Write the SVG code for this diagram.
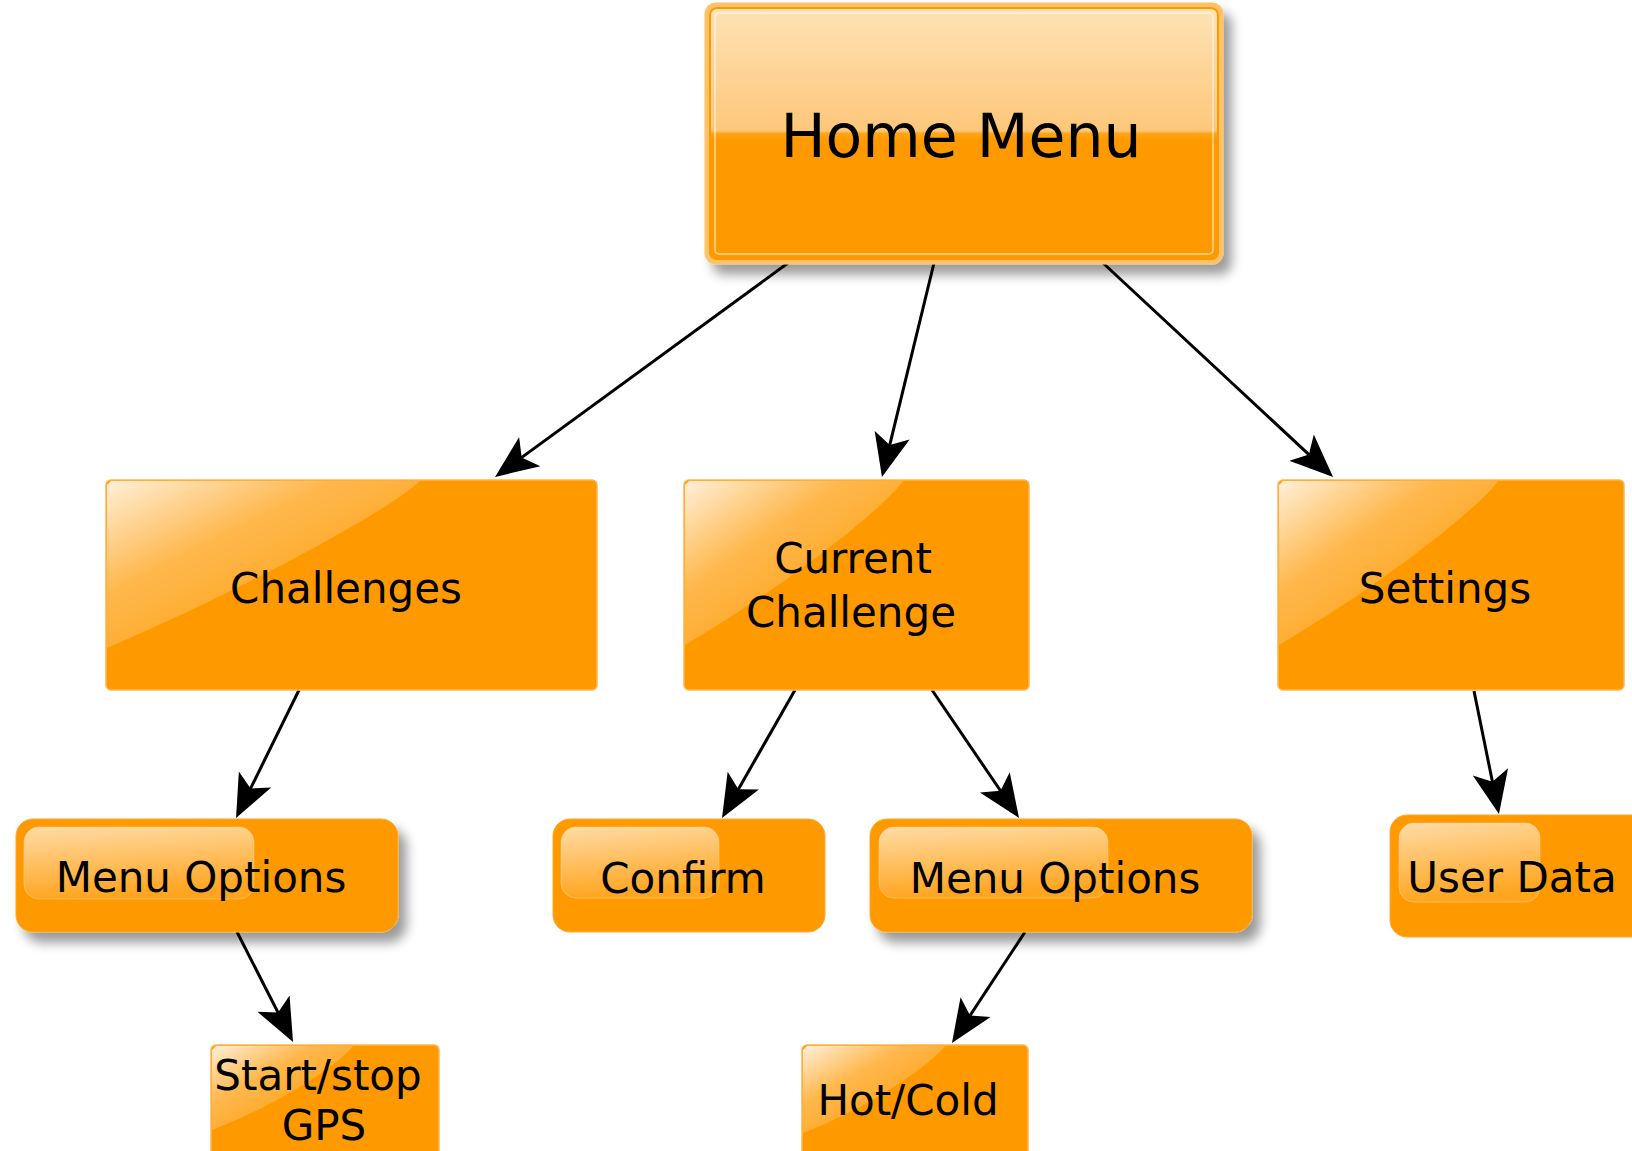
<svg xmlns="http://www.w3.org/2000/svg" width="1632" height="1151" viewBox="0 0 1632 1151">
<style>
.lbl{font-family:"DejaVu Sans","Liberation Sans",sans-serif;font-size:42px;fill:#000;text-anchor:middle}
.big{fill:#FF9900;stroke:#FFB54D;stroke-width:1.5}
.rnd{fill:#FF9900;stroke:#FFAA33;stroke-width:1}
.gl{fill:url(#glossDiag)}
.gr{fill:url(#glossVert);stroke:#FFD9A0;stroke-opacity:0.5;stroke-width:1}
.conn{stroke:#000;stroke-width:3;fill:none;marker-end:url(#arr)}
</style>
<defs>
<linearGradient id="homeGrad" x1="0" y1="0" x2="0" y2="1">
<stop offset="0" stop-color="#FEE3B6"/>
<stop offset="0.49" stop-color="#FDC77A"/>
<stop offset="0.5" stop-color="#FFA518"/>
<stop offset="0.53" stop-color="#FF9900"/>
<stop offset="1" stop-color="#FF9900"/>
</linearGradient>
<linearGradient id="glossDiag" x1="0" y1="0" x2="0.75" y2="0.8">
<stop offset="0" stop-color="#FFFFFF" stop-opacity="0.85"/>
<stop offset="0.45" stop-color="#FFFFFF" stop-opacity="0.3"/>
<stop offset="1" stop-color="#FFFFFF" stop-opacity="0.08"/>
</linearGradient>
<linearGradient id="glossVert" x1="0" y1="0" x2="0.2" y2="1">
<stop offset="0" stop-color="#FFFFFF" stop-opacity="0.65"/>
<stop offset="1" stop-color="#FFFFFF" stop-opacity="0.12"/>
</linearGradient>
<filter id="sh" x="-10%" y="-15%" width="130%" height="150%">
<feGaussianBlur in="SourceAlpha" stdDeviation="6"/>
<feOffset dx="8" dy="10" result="o"/>
<feComponentTransfer><feFuncA type="linear" slope="0.4"/></feComponentTransfer>
<feMerge><feMergeNode/><feMergeNode in="SourceGraphic"/></feMerge>
</filter>
<marker id="arr" markerUnits="userSpaceOnUse" viewBox="0 -20 50 40" markerWidth="50" markerHeight="40" refX="20" refY="0" orient="auto">
<path d="M43,0 L0,-18 L10,0 L0,18 Z" fill="#000"/>
</marker>
</defs>
<rect width="1632" height="1151" fill="#FFFFFF"/>

<g id="connectors">
<line class="conn" x1="788" y1="263" x2="513.6" y2="463.4"/>
<line class="conn" x1="934" y1="263" x2="887.4" y2="454.6"/>
<line class="conn" x1="1103" y1="263" x2="1316.2" y2="461.3"/>
<line class="conn" x1="299" y1="690" x2="246.2" y2="797.4"/>
<line class="conn" x1="795" y1="690" x2="733.4" y2="798"/>
<line class="conn" x1="932" y1="690" x2="1006.1" y2="799"/>
<line class="conn" x1="1474" y1="691" x2="1494.4" y2="791.5"/>
<line class="conn" x1="237" y1="932" x2="282.6" y2="1021.5"/>
<line class="conn" x1="1025" y1="932" x2="964.6" y2="1023.8"/>
</g>

<g id="home-menu">
<rect x="707" y="5" width="514" height="257" rx="9" fill="url(#homeGrad)" stroke="#FFC266" stroke-width="5" filter="url(#sh)"/>
<rect x="710" y="8" width="508" height="251" rx="7" fill="none" stroke="#FF9900" stroke-width="2"/>
<rect x="715" y="13" width="498" height="241" rx="4" fill="none" stroke="#FFFFFF" stroke-opacity="0.6" stroke-width="1.5"/>
<text class="lbl" x="961" y="157" style="font-size:60px">Home Menu</text>
</g>

<g id="challenges">
<rect class="big" x="106" y="480" width="491" height="210" rx="5"/>
<path class="gl" d="M111,481 H420 C401,501 278,574 107,648 V485 Z"/>
<text class="lbl" x="346" y="603">Challenges</text>
</g>

<g id="current-challenge">
<rect class="big" x="684" y="480" width="345" height="210" rx="5"/>
<path class="gl" d="M689,481 H903 C890,501 805,574 685,645 V485 Z"/>
<text class="lbl" x="853" y="573">Current</text>
<text class="lbl" x="851" y="627">Challenge</text>
</g>

<g id="settings">
<rect class="big" x="1278" y="480" width="346" height="210" rx="5"/>
<path class="gl" d="M1283,481 H1498 C1485,501 1399,574 1279,645 V485 Z"/>
<text class="lbl" x="1445" y="603">Settings</text>
</g>

<g id="menu-options-1">
<rect class="rnd" x="16" y="819" width="382" height="113" rx="17" filter="url(#sh)"/>
<rect class="gr" x="24" y="827" width="230" height="72" rx="15"/>
<text class="lbl" x="201" y="892">Menu Options</text>
</g>

<g id="confirm">
<rect class="rnd" x="553" y="819" width="272" height="113" rx="17"/>
<rect class="gr" x="561" y="827" width="158" height="71" rx="15"/>
<text class="lbl" x="683" y="893">Confirm</text>
</g>

<g id="menu-options-2">
<rect class="rnd" x="870" y="819" width="382" height="113" rx="17" filter="url(#sh)"/>
<rect class="gr" x="879" y="827" width="229" height="71" rx="15"/>
<text class="lbl" x="1055" y="893">Menu Options</text>
</g>

<g id="user-data">
<rect class="rnd" x="1390" y="815" width="262" height="122" rx="17"/>
<rect class="gr" x="1399" y="823" width="141" height="79" rx="15"/>
<text class="lbl" x="1512" y="892">User Data</text>
</g>

<g id="start-stop-gps">
<rect class="big" x="211" y="1045" width="228" height="140" rx="5"/>
<path class="gl" d="M216,1046 H353 C345,1058 290,1100 212,1130 V1050 Z"/>
<text class="lbl" x="318" y="1090">Start/stop</text>
<text class="lbl" x="324" y="1140">GPS</text>
</g>

<g id="hot-cold">
<rect class="big" x="802" y="1045" width="226" height="140" rx="5"/>
<path class="gl" d="M807,1046 H945 C937,1058 882,1102 803,1133 V1050 Z"/>
<text class="lbl" x="908" y="1115">Hot/Cold</text>
</g>
</svg>
